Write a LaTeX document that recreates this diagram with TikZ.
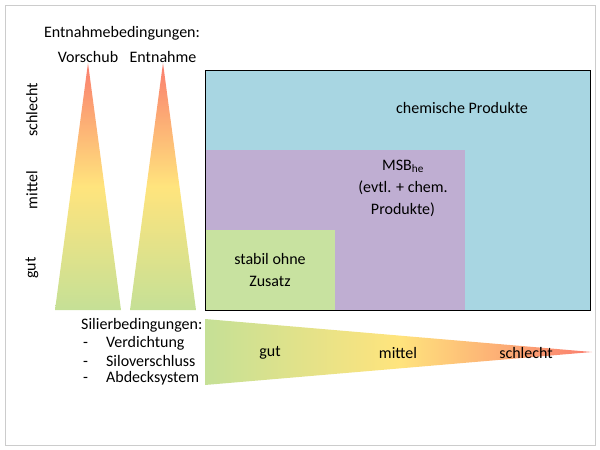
\documentclass[tikz,border=0pt]{standalone}
\usepackage{fontspec}
\setmainfont{Carlito}
\usetikzlibrary{positioning}
\definecolor{gGreen}{RGB}{197,224,150}
\definecolor{gYellow}{RGB}{255,228,125}
\definecolor{gRed}{RGB}{250,125,110}
\definecolor{boxBlue}{RGB}{168,214,226}
\definecolor{boxPurple}{RGB}{191,174,210}
\definecolor{boxGreen}{RGB}{200,226,160}
\tikzset{
  lbl/.style={font=\fontsize{16}{22}\selectfont,align=center,inner sep=1pt},
  area/.style={draw=black,line width=0.8pt}
}
\begin{document}
\begin{tikzpicture}[x=1pt,y=-1pt]
		\useasboundingbox (0,0) rectangle (600,450);
		\draw[gray!40] (5,5) rectangle (595,445);
		% Entnahme triangles
		\shade[top color=gRed,bottom color=gGreen,middle color=gYellow] (55,310)--(88,63)--(121,310)--cycle;
		\shade[top color=gRed,bottom color=gGreen,middle color=gYellow] (130,310)--(163,63)--(196,310)--cycle;
		% areas
		\draw[area,fill=boxBlue] (205,70) rectangle (590,310);
		\fill[boxPurple] (205,150) rectangle (465,310);
		\fill[boxGreen] (205,230) rectangle (335,310);
		\draw[area] (205,70) rectangle (590,310);
		% Silier triangle
		\shade[left color=gGreen,right color=gRed,middle color=gYellow] (205,319)--(592,352)--(205,385)--cycle;

		\node[lbl] (entn) at (122,33) {Entnahmebedingungen:};
		\node[lbl] (vor) at (88,57) {Vorschub};
		\node[lbl] (ent) at (163,57) {Entnahme};
		\node[lbl,rotate=90] (schl) at (32,110) {schlecht};
		\node[lbl,rotate=90] (mit) at (32,190) {mittel};
		\node[lbl,rotate=90] (gu) at (32,268) {gut};
		\node[lbl] (chem) at (462,108) {chemische Produkte};
		\node[lbl] (msb) at (403,188) {MSB\textsubscript{he}\\(evtl. + chem.\\Produkte)};
		\node[lbl] (stab) at (270,270) {stabil ohne\\Zusatz};
		\node[lbl,anchor=west] (sil) at (80,325) {Silierbedingungen:};
		\node[lbl,anchor=west] (ver) at (82,343) {-\hspace{18pt}Verdichtung};
		\node[lbl,anchor=west] (silo) at (82,361) {-\hspace{18pt}Siloverschluss};
		\node[lbl,anchor=west] (abd) at (82,378) {-\hspace{18pt}Abdecksystem};
		\node[lbl] (hgut) at (270,353) {gut};
		\node[lbl] (hmit) at (398,353) {mittel};
		\node[lbl] (hschl) at (526,353) {schlecht};
	\end{tikzpicture}
\end{document}
